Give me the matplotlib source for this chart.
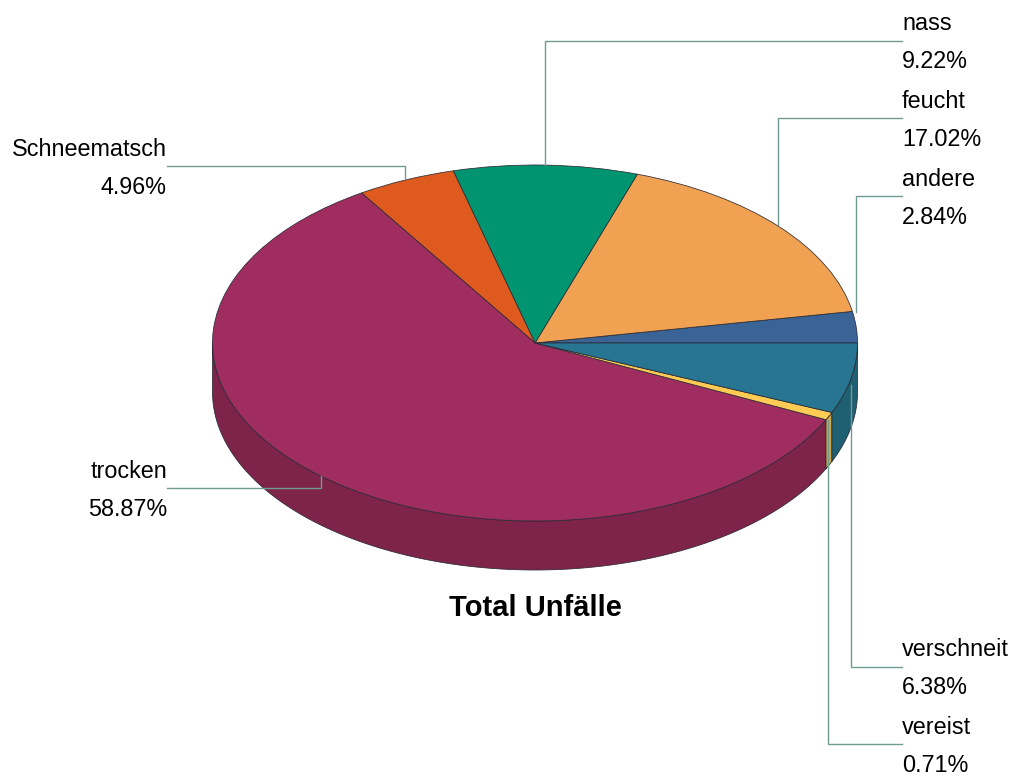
import numpy as np
import matplotlib
matplotlib.use('Agg')
import matplotlib.pyplot as plt

plt.rcParams['font.family'] = ['Liberation Sans', 'DejaVu Sans']

## the data, counterclockwise from the east side of the pie
labels = ['andere', 'feucht', 'nass', 'Schneematsch', 'trocken', 'vereist', 'verschneit']
values = [2.84, 17.02, 9.22, 4.96, 58.87, 0.71, 6.38]
top_colors = ['#3A6496', '#F0A252', '#009570', '#DF5A1E', '#A02D60', '#FFCB55', '#277590']
wall_colors = ['#2B4A70', '#B47A3D', '#006F54', '#A74316', '#7E2349', '#D2A545', '#1F5F72']
title = 'Total Unfälle'

W, H = 1015, 777
cx, cy = 535, 343      # pie centre in pixels
rx, ry = 322.5, 178    # pie radii in pixels
depth = 49 / ry

fig = plt.figure(figsize=(W / 100, H / 100), dpi=100)

ax = fig.add_axes([0, 0, 1, 1])
edge = '#2A2A35'

## side wall, only the front half can be seen
ends = np.cumsum(values) / sum(values) * 360
starts = ends - np.array(values) / sum(values) * 360
for a0, a1, c in zip(starts, ends, wall_colors):
    lo, hi = max(a0, 180), min(a1, 360)
    if hi <= lo:
        continue
    t = np.radians(np.linspace(lo, hi, 120))
    xs = np.r_[np.cos(t), np.cos(t[::-1])]
    ys = np.r_[np.sin(t), np.sin(t[::-1]) - depth]
    ax.fill(xs, ys, facecolor=c, edgecolor=edge, linewidth=0.55, zorder=1)

## top face
wedges, _ = ax.pie(values, colors=top_colors, startangle=0, counterclock=True,
                   radius=1, wedgeprops=dict(edgecolor=edge, linewidth=0.55))
for w in wedges:
    w.set_zorder(2)
ax.set_aspect('auto')
ax.set_xlim((0 - cx) / rx, (W - cx) / rx)
ax.set_ylim((cy - H) / ry, cy / ry)
ax.axis('off')

## overlay in pixels for the leaders and the texts
ov = fig.add_axes([0, 0, 1, 1])
ov.set_xlim(0, W)
ov.set_ylim(H, 0)
ov.axis('off')
ov.patch.set_alpha(0)

leaders = {
    'nass': ([902, 545, 545], [41, 41, 165]),
    'feucht': ([902, 778, 778], [118, 118, 225]),
    'andere': ([902, 856, 856], [196, 196, 312]),
    'Schneematsch': ([167, 405, 405], [166, 166, 178]),
    'trocken': ([167, 321, 321], [488, 488, 476]),
    'verschneit': ([902, 851, 851], [667, 667, 385]),
    'vereist': ([902, 828, 828], [744, 744, 420]),
}
for name, (xs, ys) in leaders.items():
    ov.plot(xs, ys, color='#6F9C92', linewidth=1.0, solid_joinstyle='miter', zorder=3)

text_pos = {
    'nass': (902, 24, 'left'),
    'feucht': (902, 101, 'left'),
    'andere': (902, 179, 'left'),
    'Schneematsch': (167, 149, 'right'),
    'trocken': (167, 471, 'right'),
    'verschneit': (902, 650, 'left'),
    'vereist': (902, 727, 'left'),
}
for name, v in zip(labels, values):
    x, y, ha = text_pos[name]
    ov.text(x, y, name, ha=ha, va='center', fontsize=16.8, color='black', zorder=4)
    ov.text(x, y + 38, '%.2f%%' % v, ha=ha, va='center', fontsize=16.8, color='black', zorder=4)

ov.text(535, 608, title, ha='center', va='center', fontsize=21, fontweight='bold', color='black')

fig.savefig('out.png', dpi=100)
